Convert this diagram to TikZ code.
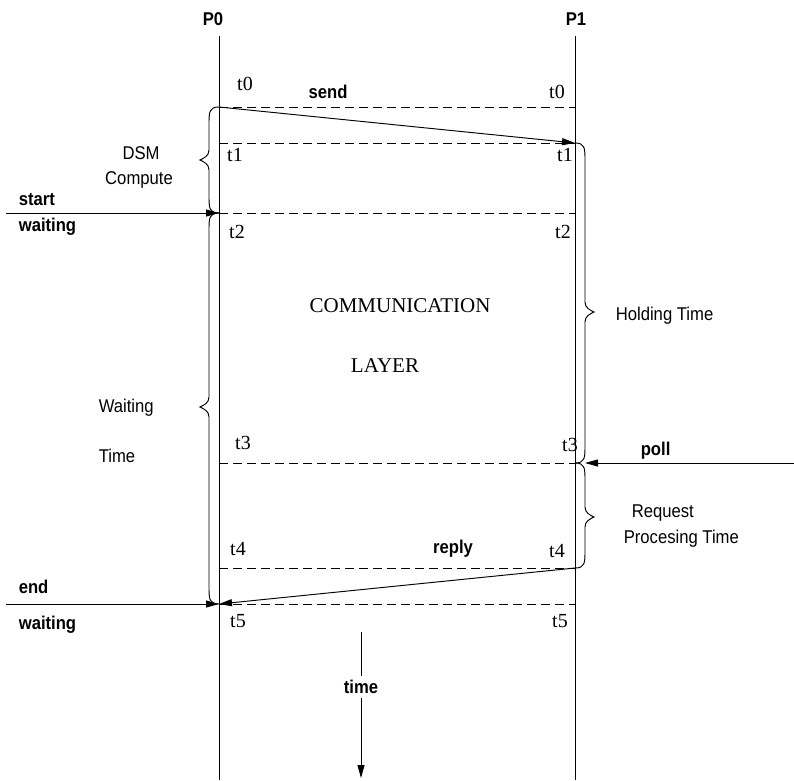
\documentclass[tikz,border=0pt]{standalone}
\usepackage{fontspec}
\setmainfont{Liberation Serif}
\setsansfont[FakeStretch=0.9]{Liberation Sans}
\usetikzlibrary{arrows.meta}

% curly brace along a time line: #1 line x, #2 top y, #3 bottom y, #4 tip y, #5 side (-1 left, 1 right)
\newcommand\timebrace[5]{%
	\draw ({#1},{#2}) .. controls ({#1+10*(#5)},{#2}) and ({#1+10*(#5)},{#2+5}) .. ({#1+10*(#5)},{#2+18})
		-- ({#1+10*(#5)},{#4-10}) .. controls ({#1+10*(#5)},{#4-4}) and ({#1+15*(#5)},{#4-2}) .. ({#1+19*(#5)},{#4})
		.. controls ({#1+15*(#5)},{#4+2}) and ({#1+10*(#5)},{#4+4}) .. ({#1+10*(#5)},{#4+10})
		-- ({#1+10*(#5)},{#3-18}) .. controls ({#1+10*(#5)},{#3-5}) and ({#1+10*(#5)},{#3}) .. ({#1},{#3});}

\tikzset{
	evt/.style={font=\fontsize{20}{22}\selectfont},
	layer/.style={font=\fontsize{21}{24}\selectfont},
	tag/.style={font=\sffamily\fontsize{18.5}{21}\selectfont},
	boldtag/.style={font=\sffamily\bfseries\fontsize{18.5}{21}\selectfont},
	msg/.style={-{Triangle[length=13pt,width=7pt]}},
	slot/.style={dash pattern=on 9pt off 5pt}
}

\begin{document}
\begin{tikzpicture}[x=1pt, y=-1pt, line width=0.95pt]

	\useasboundingbox (0,0) rectangle (794,780);

	% Time lines of the two processes
	\node [boldtag] (p0) at (213,19) {P0};
	\node [boldtag] (p1) at (576,19) {P1};
	\coordinate (p0top) at (219,36);
	\coordinate (p0bot) at (219,780);
	\coordinate (p1top) at (575,36);
	\coordinate (p1bot) at (575,780);
	\draw (p0top) -- (p0bot);
	\draw (p1top) -- (p1bot);

	% Event points on both lines
	\coordinate (p0t0) at (219,107);  \coordinate (p1t0) at (575,107);
	\coordinate (p0t1) at (219,143);  \coordinate (p1t1) at (575,143);
	\coordinate (p0t2) at (219,213);  \coordinate (p1t2) at (575,213);
	\coordinate (p0t3) at (219,463);  \coordinate (p1t3) at (575,463);
	\coordinate (p0t4) at (219,568);  \coordinate (p1t4) at (575,568);
	\coordinate (p0t5) at (219,604);  \coordinate (p1t5) at (575,604);

	% Dashed time slots
	\draw [slot] (p0t0) -- (p1t0);
	\draw [slot] (p0t1) -- (p1t1);
	\draw [slot] (p0t2) -- (p1t2);
	\draw [slot] (p0t3) -- (p1t3);
	\draw [slot] (p0t4) -- (p1t4);
	\draw [slot] (p0t5) -- (p1t5);

	% Time stamps
	\node [evt] (l0) at (245,84) {t0};   \node [evt] (r0) at (557,92) {t0};
	\node [evt] (l1) at (235,155) {t1};  \node [evt] (r1) at (565,155) {t1};
	\node [evt] (l2) at (237,232) {t2};  \node [evt] (r2) at (563,232) {t2};
	\node [evt] (l3) at (243,443) {t3};  \node [evt] (r3) at (570,445) {t3};
	\node [evt] (l4) at (238,549) {t4};  \node [evt] (r4) at (557,551) {t4};
	\node [evt] (l5) at (238,621) {t5};  \node [evt] (r5) at (560,621) {t5};

	% Messages between the processes
	\draw [msg] (p0t0) -- (p1t1);
	\node [boldtag] (send) at (328,92) {send};
	\draw [msg] (p1t4) -- (p0t5);
	\node [boldtag] (reply) at (453,549) {reply};

	% Outside events
	\coordinate (startin) at (6,213);
	\coordinate (endin) at (6,604);
	\coordinate (pollin) at (794,463);
	\coordinate (pollend) at (585,463);
	\draw [msg] (startin) -- (p0t2);
	\draw [msg] (endin) -- (p0t5);
	\draw [msg] (pollin) -- (pollend);
	\node [boldtag, anchor=base west] (start) at (15,205) {start};
	\node [boldtag, anchor=base west] (waita) at (15,231) {waiting};
	\node [boldtag, anchor=base west] (end) at (15,593) {end};
	\node [boldtag, anchor=base west] (waitb) at (15,629) {waiting};
	\node [boldtag, anchor=base west] (poll) at (637,455) {poll};

	% Braces for the intervals
	\timebrace{219}{107}{213}{160}{-1}
	\timebrace{219}{213}{604}{407}{-1}
	\timebrace{575}{143}{463}{312}{1}
	\timebrace{575}{463}{568}{517}{1}
	\node [tag] (dsm) at (141,153) {DSM};
	\node [tag] (compute) at (139,180) {Compute};
	\node [tag, anchor=base west] (waiting) at (95,412) {Waiting};
	\node [tag, anchor=base west] (wtime) at (95,462) {Time};
	\node [tag, anchor=base west] (holding) at (612,320) {Holding Time};
	\node [tag, anchor=base west] (request) at (628,517) {Request};
	\node [tag, anchor=base west] (procesing) at (620,543) {Procesing Time};

	% Layer in between
	\node [layer, anchor=base] (comm) at (400,312) {COMMUNICATION};
	\node [layer, anchor=base] (layer) at (385,372) {LAYER};

	% Time axis
	\coordinate (timetop) at (361,632);
	\coordinate (timebot) at (361,778);
	\node [boldtag] (timelbl) at (361,687) {time};
	\draw (timetop) -- (timelbl);
	\draw [msg] (timelbl) -- (timebot);

\end{tikzpicture}
\end{document}
